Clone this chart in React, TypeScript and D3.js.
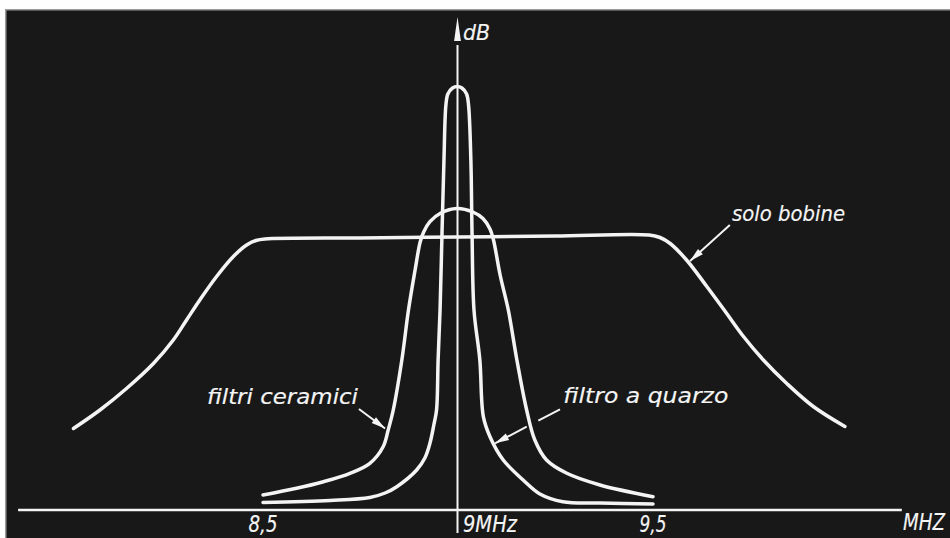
import React from "react";
import * as d3 from "d3";

// ---- data (frequency in MHz, relative level in arbitrary dB units) ----
const soloBobine: [number, number][] = [
  [8.014, 16.3], [8.082, 20.0], [8.15, 24.3], [8.219, 29.3], [8.27, 34.0],
  [8.304, 38.0], [8.338, 42.0], [8.381, 46.7], [8.424, 50.7], [8.458, 53.0],
  [8.482, 53.9], [8.505, 54.2], [8.75, 54.4], [9.0, 54.6], [9.25, 54.8], [9.49, 55.0],
  [9.518, 54.5], [9.544, 53.3], [9.586, 50.0], [9.638, 44.7], [9.689, 39.3],
  [9.732, 34.7], [9.783, 30.0], [9.843, 25.3], [9.911, 20.7], [9.992, 16.7],
];

const filtriCeramici: [number, number][] = [
  [8.5, 3.0], [8.586, 4.34], [8.655, 5.66], [8.723, 7.34], [8.774, 9.34],
  [8.808, 12.66], [8.821, 16.0], [8.834, 20.0], [8.856, 30.0], [8.873, 40.0],
  [8.89, 48.0], [8.903, 53.6], [8.912, 55.6], [8.928, 57.66], [8.956, 59.4],
  [8.997, 60.3], [9.038, 59.6], [9.064, 58.3], [9.082, 56.2], [9.091, 54.0],
  [9.108, 47.0], [9.129, 40.0], [9.151, 30.0], [9.176, 20.0], [9.197, 14.0],
  [9.227, 10.0], [9.279, 7.34], [9.364, 5.0], [9.5, 2.66],
];

const filtroQuarzo: [number, number][] = [
  [8.5, 1.5], [8.672, 1.9], [8.774, 2.5], [8.813, 3.4], [8.843, 4.66],
  [8.894, 8.0], [8.915, 10.4], [8.928, 13.34], [8.938, 17.0], [8.945, 20.0],
  [8.949, 30.0], [8.954, 40.0], [8.959, 55.4], [8.964, 70.0], [8.969, 81.0],
  [8.974, 83.2], [8.986, 84.4], [8.998, 84.7], [9.01, 84.4], [9.022, 83.2],
  [9.027, 81.0], [9.033, 70.0], [9.036, 55.4], [9.041, 40.0], [9.056, 30.0],
  [9.065, 18.66], [9.082, 14.66], [9.116, 10.0], [9.167, 6.0], [9.21, 3.2],
  [9.269, 1.66], [9.364, 1.4], [9.5, 1.2],
];

const tickValues = [8.5, 9, 9.5];
const tickLabels = ["8,5", "9MHz", "9,5"];
const axisUnit = "MHZ";
const yAxisLabel = "dB";

// annotations: text anchor (freq, level) and arrow from -> tip
const annotations = [
  { text: "solo bobine", at: [9.7026, 57.8], from: [9.697, 57.0], tip: [9.595, 49.8], gap: null as null | [number, number] },
  { text: "filtri ceramici", at: [8.3564, 21.2], from: [8.746, 20.2], tip: [8.813, 16.3], gap: null as null | [number, number] },
  { text: "filtro a quarzo", at: [9.27, 21.4], from: [9.2615, 20.14], tip: [9.095, 13.34], gap: [0.334, 0.512] as [number, number] },
];
const annotationWidths = [113, 151, 165];
const tickLabelWidths = [29, 54, 27];

export default function App() {
  const W = 950, H = 538;
  const x = d3.scaleLinear().domain([8.5, 9.5]).range([263, 653]);
  const y = d3.scaleLinear().domain([0, 100]).range([510, 10]);
  const line = d3
    .line<[number, number]>()
    .x((d) => x(d[0]))
    .y((d) => y(d[1]))
    .curve(d3.curveCatmullRom.alpha(0.5));

  const fg = "#f4f4f4";
  const bg = "#181818";
  const font = "'DejaVu Sans Condensed', 'DejaVu Sans', sans-serif";

  const x0 = x(9);
  const axisY = y(0);

  const arrowHead = (fx: number, fy: number, tx: number, ty: number, len = 14, hw = 3.6) => {
    const ang = Math.atan2(ty - fy, tx - fx);
    const bx = tx - len * Math.cos(ang), by = ty - len * Math.sin(ang);
    const px = -Math.sin(ang) * hw, py = Math.cos(ang) * hw;
    return `M${tx},${ty}L${bx + px},${by + py}L${bx - px},${by - py}Z`;
  };

  const textStyle = {
    fill: fg,
    fontFamily: font,
    fontStyle: "italic" as const,
    stroke: fg,
    strokeWidth: 0.15,
  };

  return (
    <svg
      width={W}
      height={H}
      style={{ position: "absolute", left: 0, top: 0, display: "block" }}
      xmlns="http://www.w3.org/2000/svg"
    >
      <rect x={0} y={0} width={W} height={H} fill="#ffffff" />
      <rect x={5} y={9} width={W - 5} height={H - 9} fill="#9a9a9a" />
      <rect x={6.5} y={10.5} width={W - 6.5} height={H - 10.5} fill={bg} />

      {/* x axis */}
      <line x1={x(7.872)} x2={x(10.138)} y1={axisY} y2={axisY} stroke={fg} strokeWidth={2.4} />
      {/* y axis */}
      <line x1={x0 - 0.5} x2={x0 - 0.5} y1={y(-4.6)} y2={y(93)} stroke={fg} strokeWidth={2} />
      <path d={arrowHead(x0 - 0.5, y(80), x0 - 0.5, y(98.6), 24, 3.4)} fill={fg} />

      {/* curves */}
      {[soloBobine, filtriCeramici, filtroQuarzo].map((s, i) => (
        <path
          key={i}
          d={line(s) || ""}
          fill="none"
          stroke={fg}
          strokeWidth={3.5}
          strokeLinecap="round"
          strokeLinejoin="round"
        />
      ))}

      {/* tick labels */}
      {tickValues.map((v, i) => (
        <text
          key={i}
          x={v === 9 ? x(v) + 5 : x(v) - tickLabelWidths[i] / 2}
          y={axisY + 22}
          {...textStyle}
          fontSize={23}
          textLength={tickLabelWidths[i]}
          lengthAdjust="spacingAndGlyphs"
        >
          {tickLabels[i]}
        </text>
      ))}
      <text
        x={x(10.141)}
        y={axisY + 20}
        {...textStyle}
        fontSize={23}
        textLength={42}
        lengthAdjust="spacingAndGlyphs"
      >
        {axisUnit}
      </text>
      <text
        x={x0 + 5}
        y={y(94)}
        {...textStyle}
        fontSize={22}
        textLength={27}
        lengthAdjust="spacingAndGlyphs"
      >
        {yAxisLabel}
      </text>

      {/* annotations */}
      {annotations.map((a, i) => {
        const fx = x(a.from[0]), fy = y(a.from[1]);
        const tx = x(a.tip[0]), ty = y(a.tip[1]);
        const segs: [number, number][] = a.gap ? [[0, a.gap[0]], [a.gap[1], 1]] : [[0, 1]];
        return (
          <g key={i}>
            <text
              x={x(a.at[0])}
              y={y(a.at[1])}
              {...textStyle}
              fontSize={22}
              textLength={annotationWidths[i]}
              lengthAdjust="spacingAndGlyphs"
            >
              {a.text}
            </text>
            {segs.map((s, j) => (
              <line
                key={j}
                x1={fx + (tx - fx) * s[0]}
                y1={fy + (ty - fy) * s[0]}
                x2={fx + (tx - fx) * s[1]}
                y2={fy + (ty - fy) * s[1]}
                stroke={fg}
                strokeWidth={2}
              />
            ))}
            <path d={arrowHead(fx, fy, tx, ty, 14, 3.6)} fill={fg} />
          </g>
        );
      })}
    </svg>
  );
}
